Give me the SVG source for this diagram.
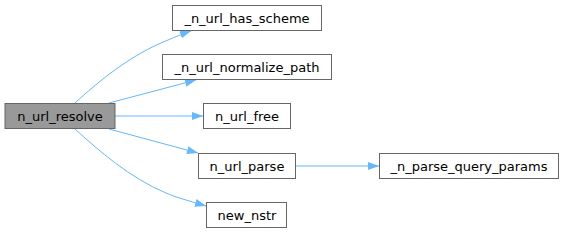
<svg xmlns="http://www.w3.org/2000/svg" width="565" height="233" viewBox="0 0 565 233">
<defs>
<style>
.n rect{fill:#fff;stroke:#666;stroke-width:1}
.n.cur rect{fill:#999}
.n text{font-family:"DejaVu Sans",sans-serif;font-size:13px;text-anchor:middle;fill:#000}
.e path{fill:none;stroke:#63b8ff;stroke-width:1}
</style>
<marker id="ah" viewBox="0 0 11 10" refX="11" refY="5" markerWidth="11" markerHeight="10" markerUnits="userSpaceOnUse" orient="auto">
<path d="M0,1 L11,5 L0,9 Z" fill="#63b8ff"/>
</marker>
</defs>
<rect width="565" height="233" fill="#fff"/>
<g id="edges" class="e">
<path d="M75,103 C98,82 130,55 168,40 C175,37 182,34 191,31" marker-end="url(#ah)"/>
<path d="M109,103 L196,80" marker-end="url(#ah)"/>
<path d="M115,116 L203,116" marker-end="url(#ah)"/>
<path d="M109,129 L198,153" marker-end="url(#ah)"/>
<path d="M75,129 C98,150 130,178 166,193 C175,197 186,200 206,206" marker-end="url(#ah)"/>
<path d="M296,166 L379,166" marker-end="url(#ah)"/>
</g>
<g id="n_url_resolve" class="n cur"><rect x="5" y="103.5" width="110" height="25"/><text x="60" y="120.5">n_url_resolve</text></g>
<g id="_n_url_has_scheme" class="n"><rect x="172.5" y="5.5" width="149" height="25"/><text x="247" y="22.5">_n_url_has_scheme</text></g>
<g id="_n_url_normalize_path" class="n"><rect x="162.5" y="54.5" width="169" height="25"/><text x="247" y="71.5">_n_url_normalize_path</text></g>
<g id="n_url_free" class="n"><rect x="203.5" y="103.5" width="87" height="25"/><text x="247" y="120.5">n_url_free</text></g>
<g id="n_url_parse" class="n"><rect x="198.5" y="153.5" width="97" height="25"/><text x="247" y="170.5">n_url_parse</text></g>
<g id="new_nstr" class="n"><rect x="206.5" y="202.5" width="80" height="25"/><text x="247" y="219.5">new_nstr</text></g>
<g id="_n_parse_query_params" class="n"><rect x="379.5" y="153.5" width="179" height="25"/><text x="469" y="170.5">_n_parse_query_params</text></g>
</svg>
